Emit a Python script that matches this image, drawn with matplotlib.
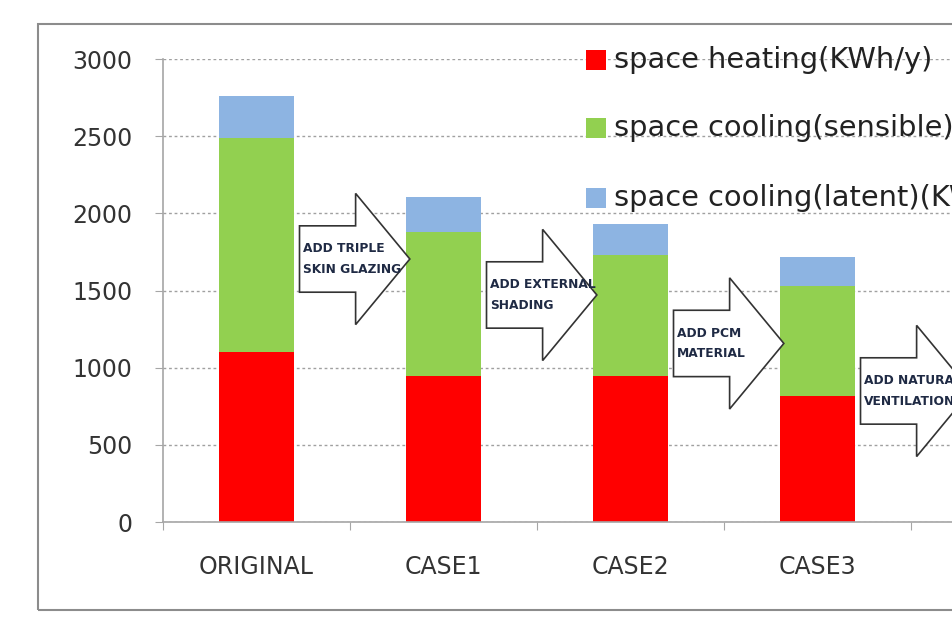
import numpy as np
import matplotlib.pyplot as plt
from matplotlib.patches import FancyArrow, Rectangle

# values (KWh/y)
categories = ['ORIGINAL', 'CASE1', 'CASE2', 'CASE3']
heating = [1100, 946, 948, 818]
cooling_sensible = [1388, 933, 782, 711]
cooling_latent = [272, 227, 201, 190]
series_labels = ['space heating(KWh/y)', 'space cooling(sensible)(KWh/y)',
                 'space cooling(latent)(KWh/y)']
series_colors = ['#FF0000', '#92D050', '#8DB4E2']

# retrofit steps drawn as block arrows between the bars
steps = ['ADD TRIPLE\nSKIN GLAZING', 'ADD EXTERNAL\nSHADING',
         'ADD PCM\nMATERIAL', 'ADD NATURAL\nVENTILATION']
step_y = [1704, 1471, 1157, 849]

W, H = 952, 638
plt.rcParams['font.family'] = ['DejaVu Sans']
fig = plt.figure(figsize=(W / 100, H / 100), dpi=100)

# axes: y axis at px 163, zero at px 522, 3000 at px 59, 5 category slots of 187 px
ax = fig.add_axes([163 / W, (H - 522) / H, 935 / W, 463 / H])
ax.set_xlim(-0.5, 4.5)
ax.set_ylim(0, 3000)

x = np.arange(len(categories))
bottom = np.zeros(len(categories))
for vals, col in zip([heating, cooling_sensible, cooling_latent], series_colors):
    ax.bar(x, vals, width=0.4, bottom=bottom, color=col, zorder=2)
    bottom += np.array(vals)

# grid + spines
ax.set_yticks(np.arange(0, 3001, 500))
ax.yaxis.grid(True, color='#a0a0a0', linestyle=(0, (2, 2)), linewidth=1.0, zorder=0)
for s in ['top', 'right']:
    ax.spines[s].set_visible(False)
for s in ['left', 'bottom']:
    ax.spines[s].set_color('#a6a6a6')
    ax.spines[s].set_linewidth(1.2)

ax.tick_params(axis='y', length=6, color='#a6a6a6', pad=16, labelsize=17, labelcolor='#333333')
ax.set_xticks(np.arange(-0.5, 4.6, 1.0))
ax.set_xticklabels([])
ax.tick_params(axis='x', which='major', length=6, color='#a6a6a6')
ax.set_xticks(x, minor=True)
ax.set_xticklabels(categories, minor=True)
ax.tick_params(axis='x', which='minor', length=0, pad=24, labelsize=17, labelcolor='#333333')

# block arrows with step text
for i, (txt, yc) in enumerate(zip(steps, step_y)):
    x0 = i + 0.23
    arr = FancyArrow(x0, yc, 0.59, 0, width=430, head_width=850, head_length=0.29,
                     length_includes_head=True, facecolor='white', edgecolor='#333333',
                     linewidth=1.2, zorder=3)
    ax.add_patch(arr)
    ax.text(x0 + 0.02, yc, txt, ha='left', va='center', fontsize=8.8, fontweight='bold',
            color='#1F2A44', linespacing=1.75, zorder=4)

# legend drawn at its place in the plot area
leg_rows = [60, 128, 198]
for lab, col, yr in zip(series_labels, series_colors, leg_rows):
    fig.patches.append(Rectangle((586 / W, 1 - (yr + 10) / H), 20 / W, 20 / H,
                                 transform=fig.transFigure, facecolor=col, edgecolor='none'))
    fig.text(614 / W, 1 - yr / H, lab, ha='left', va='center', fontsize=20.8, color='#222222')

# outer chart frame
fig.patches.append(Rectangle((38 / W, 1 - 610 / H), 1.0, (610 - 24) / H,
                             transform=fig.transFigure, facecolor='none',
                             edgecolor='#8c8c8c', linewidth=1.5))

fig.savefig('out.png', dpi=100)
